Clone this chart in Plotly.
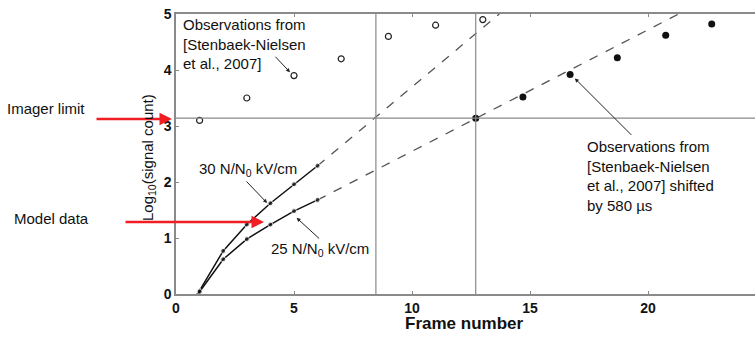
import plotly.graph_objects as go

# ---- data ----
obs_frames = [1, 3, 5, 7, 9, 11, 13]
obs_log = [3.1, 3.5, 3.9, 4.2, 4.6, 4.8, 4.9]

shifted_frames = [12.7, 14.7, 16.7, 18.7, 20.75, 22.7]
shifted_log = [3.14, 3.52, 3.92, 4.22, 4.62, 4.82]

model_frames = [0.7, 1, 2, 3, 4, 5, 6]
model30_log = [-0.12, 0.06, 0.77, 1.24, 1.62, 1.96, 2.29]
model25_log = [-0.12, 0.04, 0.62, 0.98, 1.24, 1.48, 1.68]

extrap30_frames = [6, 13.7]
extrap30_log = [2.29, 5.0]
extrap25_frames = [6, 21.3]
extrap25_log = [1.68, 5.0]

imager_limit = 3.14
crossing_frames = [8.47, 12.7]

x_ticks = [0, 5, 10, 15, 20]
y_ticks = [0, 1, 2, 3, 4, 5]

FONT = "Liberation Sans, Arial, sans-serif"
W, H = 755, 338
ML, MR, MT, MB = 176, 0, 14, 44

fig = go.Figure()

# reference lines
fig.add_hline(y=imager_limit, line=dict(color="#8a8a8a", width=1.2))
for xf in crossing_frames:
    fig.add_vline(x=xf, line=dict(color="#8a8a8a", width=1.2))

# extrapolations
fig.add_trace(go.Scatter(x=extrap30_frames, y=extrap30_log, mode="lines",
                         line=dict(color="#555555", width=1.3, dash="dash"), showlegend=False))
fig.add_trace(go.Scatter(x=extrap25_frames, y=extrap25_log, mode="lines",
                         line=dict(color="#555555", width=1.3, dash="dash"), showlegend=False))

# model curves
msizes = [0] + [5] * (len(model_frames) - 1)
fig.add_trace(go.Scatter(x=model_frames, y=model30_log, mode="lines+markers",
                         line=dict(color="#111111", width=1.5),
                         marker=dict(color="#111111", size=msizes, symbol="circle"),
                         showlegend=False))
fig.add_trace(go.Scatter(x=model_frames, y=model25_log, mode="lines+markers",
                         line=dict(color="#111111", width=1.5),
                         marker=dict(color="#111111", size=msizes, symbol="circle"),
                         showlegend=False))

# observations
fig.add_trace(go.Scatter(x=obs_frames, y=obs_log, mode="markers",
                         marker=dict(symbol="circle-open", size=6, color="#222222",
                                     line=dict(width=1.2)),
                         showlegend=False, cliponaxis=False))
fig.add_trace(go.Scatter(x=shifted_frames, y=shifted_log, mode="markers",
                         marker=dict(symbol="circle", size=7, color="#111111"),
                         showlegend=False, cliponaxis=False))

pw = W - ML - MR
ph = H - MT - MB


def px_x(px):
    return (px - ML) / pw


def px_y(py):
    return (H - MB - py) / ph


tf = dict(family=FONT, size=15, color="#111111")
anns = []
# text labels in plot
anns.append(dict(x=0.22, y=4.47, xref="x", yref="y", xanchor="left", yanchor="middle",
                 align="left", showarrow=False, font=tf,
                 text="Observations from<br>[Stenbaek-Nielsen<br>et al., 2007]"))
anns.append(dict(x=17.33, y=2.1, xref="x", yref="y", xanchor="left", yanchor="middle",
                 align="left", showarrow=False, font=tf,
                 text="Observations from<br>[Stenbaek-Nielsen<br>et al., 2007] shifted<br>by 580 µs"))
anns.append(dict(x=0.9, y=2.23, xref="x", yref="y", xanchor="left", yanchor="middle",
                 showarrow=False, font=tf, text="30 N/N<sub>0</sub> kV/cm"))
anns.append(dict(x=3.92, y=0.79, xref="x", yref="y", xanchor="left", yanchor="middle",
                 showarrow=False, font=tf, text="25 N/N<sub>0</sub> kV/cm"))

# black pointer arrows
arrow_common = dict(xref="x", yref="y", text="", showarrow=True, arrowhead=2,
                    arrowsize=0.8, arrowwidth=1, arrowcolor="#222222")
anns.append(dict(x=4.83, y=3.96, ax=-16, ay=-17, **arrow_common))
anns.append(dict(x=3.86, y=1.625, ax=-22, ay=-23, **arrow_common))
anns.append(dict(x=5.11, y=1.36, ax=24, ay=22, **arrow_common))
anns.append(dict(x=16.9, y=3.85, ax=58, ay=58, **arrow_common))

# left side labels with red arrows
anns.append(dict(x=px_x(5), y=px_y(108), xref="paper", yref="paper", xanchor="left",
                 yanchor="middle", showarrow=False, font=dict(family=FONT, size=15, color="#111111"),
                 text="Imager limit"))
anns.append(dict(x=px_x(12), y=px_y(218), xref="paper", yref="paper", xanchor="left",
                 yanchor="middle", showarrow=False, font=dict(family=FONT, size=15, color="#111111"),
                 text="Model data"))
red = dict(xref="paper", yref="paper", text="", showarrow=True, arrowhead=2,
           arrowsize=1, arrowwidth=2.5, arrowcolor="#f01e23")
anns.append(dict(x=px_x(172), y=px_y(119), ax=-77, ay=0, **red))
anns.append(dict(x=px_x(264), y=px_y(222), ax=-140, ay=0, **red))

# axis titles as annotations for exact placement
anns.append(dict(x=px_x(464), y=px_y(323), xref="paper", yref="paper", xanchor="center",
                 yanchor="middle", showarrow=False,
                 font=dict(family=FONT, size=17, color="#111111"),
                 text="<b>Frame number</b>"))
anns.append(dict(x=px_x(148), y=px_y(158), xref="paper", yref="paper", xanchor="center",
                 yanchor="middle", showarrow=False, textangle=-90,
                 font=dict(family=FONT, size=15, color="#111111"),
                 text="Log<sub>10</sub>(signal count)"))

fig.update_layout(
    width=W, height=H,
    margin=dict(l=ML, r=MR, t=MT, b=MB),
    paper_bgcolor="white", plot_bgcolor="white",
    font=dict(family=FONT, color="#111111"),
    annotations=anns,
    xaxis=dict(range=[0, pw / 23.6], tickvals=x_ticks, ticks="inside", ticklen=3,
               tickcolor="#8a8a8a", showline=True, linecolor="#8a8a8a", linewidth=1.5,
               mirror="ticks", showgrid=False, zeroline=False, automargin=False,
               tickfont=dict(family=FONT, size=14, color="#111111", weight="bold")),
    yaxis=dict(range=[0, 5], tickvals=y_ticks, ticks="inside", ticklen=3,
               tickcolor="#8a8a8a", showline=True, linecolor="#8a8a8a", linewidth=1.5,
               showgrid=False, zeroline=False, automargin=False,
               tickfont=dict(family=FONT, size=14, color="#111111", weight="bold")),
)

fig.write_html("out.html", config={"displayModeBar": False},
               post_script="document.body.style.margin='0';document.body.style.overflow='hidden';")
